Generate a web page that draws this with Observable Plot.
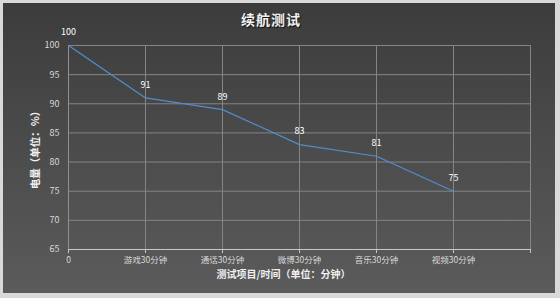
<!DOCTYPE html>
<html><head><meta charset="utf-8">
<script src="https://cdn.jsdelivr.net/npm/d3@7"></script>
<script src="https://cdn.jsdelivr.net/npm/@observablehq/plot@0.6"></script>
<style>
html,body{margin:0;padding:0;background:#d9d9d9;}
#wrap{position:relative;width:560px;height:298px;overflow:hidden;}
#panel{position:absolute;left:3px;top:3px;width:552px;height:290px;background:linear-gradient(#3c3c3c,#5b5b5b);}
#title{position:absolute;left:0;top:9px;width:542px;text-align:center;font:bold 14px "Noto Sans CJK SC",sans-serif;color:#f2f2f2;text-shadow:1px 1px 1px #111;letter-spacing:1px;}
#chart{position:absolute;left:0;top:0;}
</style></head>
<body>
<div id="wrap"><div id="panel"></div><div id="title">续航测试</div><div id="chart"></div></div>
<script>
const categories = ["0", "游戏30分钟", "通话30分钟", "微博30分钟", "音乐30分钟", "视频30分钟", ""];
const values = [100, 91, 89, 83, 81, 75];
const yTicks = [65, 70, 75, 80, 85, 90, 95, 100];
const yLabel = "电量（单位：%）";
const xLabel = "测试项目/时间（单位：分钟）";

const data = values.map((v, i) => ({i, v}));
const font = "Noto Sans CJK SC";

const chart = Plot.plot({
  width: 560, height: 298,
  marginLeft: 68, marginRight: 30, marginTop: 45, marginBottom: 49,
  style: {background: "transparent", fontFamily: font, color: "#d9d9d9", fontSize: "9px"},
  x: {domain: [0, categories.length - 1]},
  y: {domain: [65, 100]},
  marks: [
    Plot.gridY(yTicks.filter(t => t > 65), {stroke: "#858585", strokeOpacity: 1, strokeWidth: 1}),
    Plot.gridX(d3.range(1, categories.length), {stroke: "#858585", strokeOpacity: 1, strokeWidth: 1}),
    Plot.ruleX([0], {stroke: "#909090"}),
    Plot.ruleY([65], {stroke: "#c8c8c8"}),
    Plot.axisY(yTicks, {tickSize: 0, tickPadding: 9, fill: "#d9d9d9", fontSize: 9, label: null}),
    Plot.axisX(d3.range(categories.length), {tickSize: 4, tickPadding: 3, stroke: "#c8c8c8",
      tickFormat: i => categories[i], fill: "#d9d9d9", fontSize: 8.5, label: null}),
    Plot.text([xLabel], {frameAnchor: "bottom", lineAnchor: "middle", textAnchor: "middle", dx: -16, dy: 25, fill: "#f0f0f0", fontSize: 10, fontWeight: "bold"}),
    Plot.text([yLabel], {frameAnchor: "left", textAnchor: "middle", lineAnchor: "middle", dx: -33, rotate: -90, fill: "#f0f0f0", fontSize: 10.5, fontWeight: "bold"}),
    Plot.lineY(data, {x: "i", y: "v", stroke: "#4f8fd0", strokeWidth: 1.2}),
    Plot.text(data, {x: "i", y: "v", text: d => String(d.v), dy: -13, fill: "#ffffff", fontSize: 9})
  ]
});
document.getElementById("chart").appendChild(chart);
</script>
</body></html>
